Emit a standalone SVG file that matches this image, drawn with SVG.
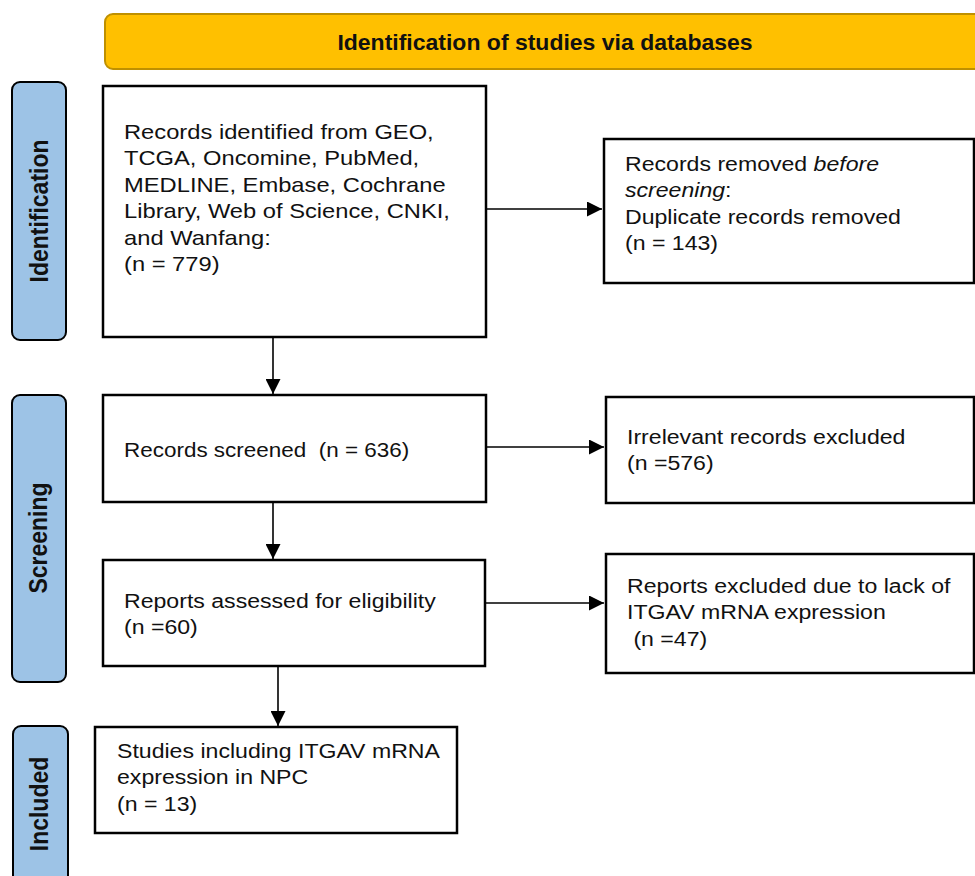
<svg xmlns="http://www.w3.org/2000/svg" width="975" height="876" viewBox="0 0 975 876">
<defs>
<style>
.box{fill:#fff;stroke:#000;stroke-width:2.5}
.side{fill:#9DC3E6;stroke:#000;stroke-width:2}
.hdr{fill:#FFC000;stroke:#BF9000;stroke-width:2}
.t{font-family:"Liberation Sans",Arial,sans-serif;font-size:21px;fill:#111}
.st{font-family:"Liberation Sans",Arial,sans-serif;font-size:23px;font-weight:bold;fill:#111;text-anchor:middle}
.ht{font-family:"Liberation Sans",Arial,sans-serif;font-size:21.5px;font-weight:bold;fill:#111;text-anchor:middle}
.ln{stroke:#000;stroke-width:1.6;fill:none;marker-end:url(#ah)}
</style>
<marker id="ah" viewBox="0 0 10 10" refX="10" refY="5" markerUnits="userSpaceOnUse" markerWidth="15" markerHeight="15" orient="auto">
<path d="M0,0 L10,5 L0,10 Z" fill="#000"/>
</marker>
</defs>
<rect width="975" height="876" fill="#fff"/>

<g id="header">
<rect class="hdr" x="105" y="14" width="890" height="55" rx="8"/>
<text class="ht" transform="translate(545,50) scale(1.07,1)">Identification of studies via databases</text>
</g>

<g id="side-identification">
<rect class="side" x="12" y="82" width="54" height="258" rx="8"/>
<text class="st" transform="translate(48,211) scale(1.1,1) rotate(-90)">Identification</text>
</g>
<g id="side-screening">
<rect class="side" x="12" y="395" width="54" height="287" rx="8"/>
<text class="st" transform="translate(47,538) scale(1.1,1) rotate(-90)">Screening</text>
</g>
<g id="side-included">
<rect class="side" x="13" y="726" width="55" height="160" rx="8"/>
<text class="st" transform="translate(48,804) scale(1.1,1) rotate(-90)">Included</text>
</g>

<g id="records-identified">
<rect class="box" x="103" y="86" width="383" height="251"/>
<text class="t" transform="translate(124,139) scale(1.13,1)"><tspan x="0" y="0">Records identified from GEO,</tspan><tspan x="0" dy="26.5">TCGA, Oncomine, PubMed,</tspan><tspan x="0" dy="26.5">MEDLINE, Embase, Cochrane</tspan><tspan x="0" dy="26.5">Library, Web of Science, CNKI,</tspan><tspan x="0" dy="26.5">and Wanfang:</tspan><tspan x="0" dy="26.5">(n = 779)</tspan></text>
</g>

<g id="records-removed">
<rect class="box" x="604" y="139" width="370" height="144"/>
<text class="t" transform="translate(625,171) scale(1.1,1)"><tspan x="0" y="0">Records removed <tspan font-style="italic">before</tspan></tspan><tspan x="0" dy="26.5"><tspan font-style="italic">screening</tspan>:</tspan><tspan x="0" dy="26.5">Duplicate records removed</tspan><tspan x="0" dy="26.5">(n = 143)</tspan></text>
</g>

<g id="records-screened">
<rect class="box" x="103" y="395" width="383" height="107"/>
<text class="t" xml:space="preserve" transform="translate(124,457) scale(1.07,1)">Records screened  (n = 636)</text>
</g>

<g id="records-excluded">
<rect class="box" x="606" y="397" width="368" height="106"/>
<text class="t" transform="translate(627,444) scale(1.1,1)"><tspan x="0" y="0">Irrelevant records excluded</tspan><tspan x="0" dy="26.5">(n =576)</tspan></text>
</g>

<g id="reports-assessed">
<rect class="box" x="103" y="560" width="382" height="106"/>
<text class="t" transform="translate(124,608) scale(1.1,1)"><tspan x="0" y="0">Reports assessed for eligibility</tspan><tspan x="0" dy="26.5">(n =60)</tspan></text>
</g>

<g id="reports-excluded">
<rect class="box" x="606" y="554" width="368" height="119"/>
<text class="t" transform="translate(627,593) scale(1.1,1)"><tspan x="0" y="0">Reports excluded due to lack of</tspan><tspan x="0" dy="26.5">ITGAV mRNA expression</tspan><tspan x="0" dy="26.5" xml:space="preserve"> (n =47)</tspan></text>
</g>

<g id="studies-included">
<rect class="box" x="95" y="727" width="362" height="106"/>
<text class="t" transform="translate(117,758) scale(1.1,1)"><tspan x="0" y="0">Studies including ITGAV mRNA</tspan><tspan x="0" dy="26.5">expression in NPC</tspan><tspan x="0" dy="26.5">(n = 13)</tspan></text>
</g>

<g id="connectors">
<line class="ln" x1="487" y1="209" x2="602" y2="209"/>
<line class="ln" x1="273" y1="338" x2="273" y2="394"/>
<line class="ln" x1="487" y1="447" x2="604" y2="447"/>
<line class="ln" x1="273" y1="503" x2="273" y2="559"/>
<line class="ln" x1="486" y1="603" x2="604" y2="603"/>
<line class="ln" x1="278" y1="667" x2="278" y2="726"/>
</g>
</svg>
